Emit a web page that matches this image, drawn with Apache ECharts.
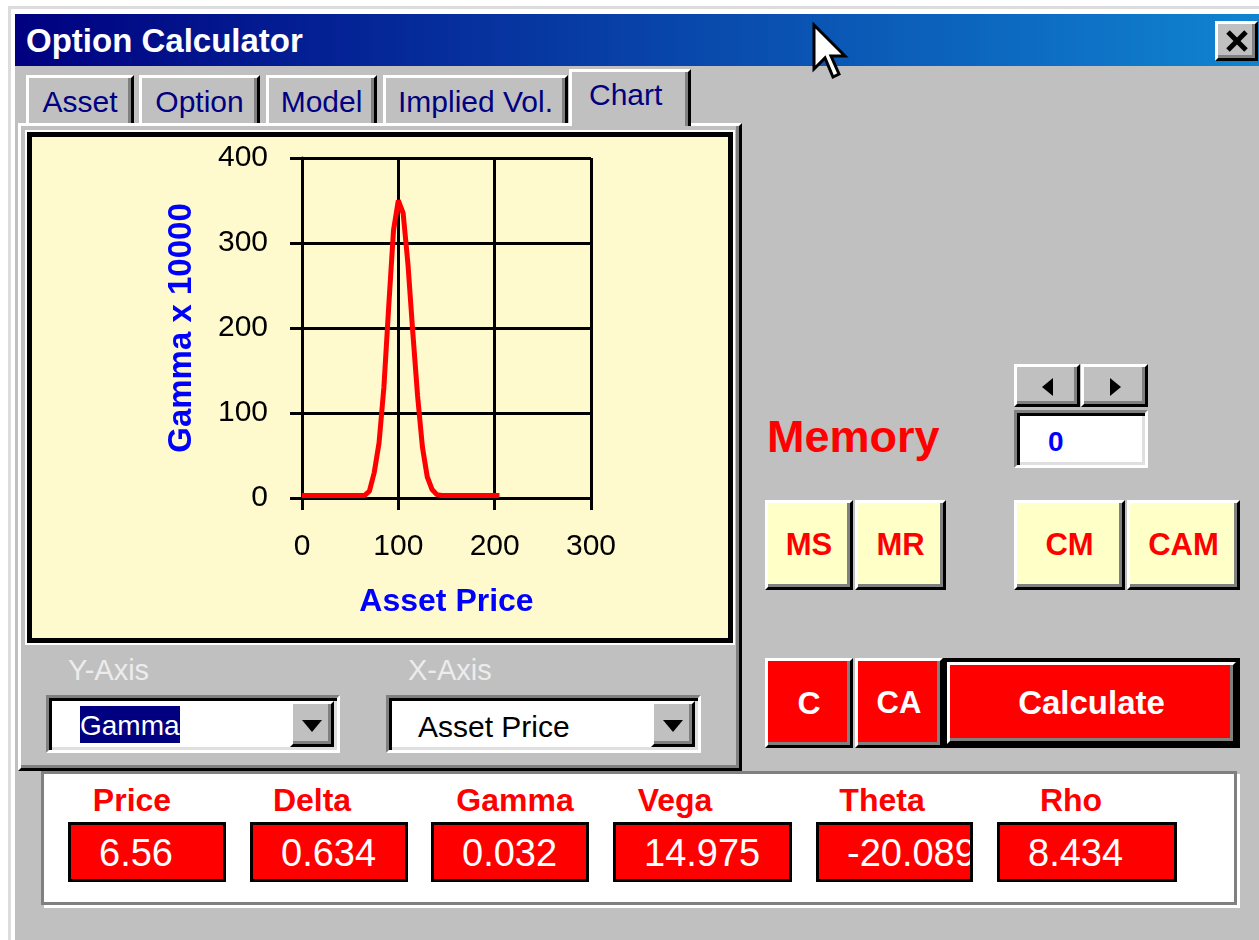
<!DOCTYPE html>
<html>
<head>
<meta charset="utf-8">
<title>Option Calculator</title>
<script src="https://cdn.jsdelivr.net/npm/echarts@6/dist/echarts.min.js"></script>
<style>
  body { margin: 0; width: 1259px; height: 940px; position: relative; overflow: hidden; background: #fff;
         font-family: 'Liberation Sans', Arial, sans-serif; }
  .a { position: absolute; box-sizing: border-box; }
  .txt { position: absolute; white-space: nowrap; }
  .raised { border: 3px solid; border-color: #fff #000 #000 #fff; box-shadow: inset -3px -3px 0 #808080; background: #c0c0c0; }
  .sunken { border: 3px solid; border-color: #808080 #fff #fff #808080; box-shadow: inset 3px 3px 0 #000, inset -3px -3px 0 #dfdfdf; background: #fff; }
  .center { display: flex; align-items: center; justify-content: center; font-weight: bold; }
</style>
</head>
<body>

<!-- window frame -->
<div class="a" style="left:8px;top:6px;width:1251px;height:934px;border-top:3px solid #dcdcdc;border-left:3px solid #dcdcdc;background:#fff;"></div>
<div class="a" style="left:15px;top:14px;width:1244px;height:926px;background:#c0c0c0;"></div>

<!-- title bar -->
<div class="a" style="left:15px;top:14px;width:1244px;height:52px;background:linear-gradient(to right,#000080,#1084d0);"></div>
<div class="txt" style="left:26px;top:24px;font-size:33px;line-height:33px;font-weight:bold;color:#fff;">Option Calculator</div>
<div class="a raised" style="left:1215px;top:21px;width:43px;height:40px;">
  <svg width="37" height="34" style="position:absolute;left:0;top:0">
    <line x1="10" y1="8" x2="28" y2="26" stroke="#000" stroke-width="5"/>
    <line x1="28" y1="8" x2="10" y2="26" stroke="#000" stroke-width="5"/>
  </svg>
</div>

<!-- tabs -->
<div id="tabs"></div>

<!-- tab page -->
<div class="a" style="left:18px;top:123px;width:724px;height:648px;border-top:3px solid #fff;border-left:3px solid #fff;border-right:3px solid #000;border-bottom:3px solid #000;box-shadow:inset -3px -3px 0 #808080;"></div>
<div class="a" style="left:569px;top:69px;width:122px;height:57px;background:#c0c0c0;border-top:3px solid #fff;border-left:3px solid #fff;border-right:3px solid #000;box-shadow:inset -3px 0 0 #808080;"></div>
<div class="txt" style="left:589px;top:79.6px;font-size:30px;line-height:30px;color:#000080;">Chart</div>

<!-- chart frame -->
<div class="a" style="left:27px;top:132px;width:706px;height:511px;border:5px solid #000;box-shadow:0 0 0 2px #fff;background:#fffacd;">
  <div id="chart" style="position:absolute;left:0;top:0;width:696px;height:501px;"></div>
</div>

<!-- axis selectors -->
<div class="txt" style="left:68px;top:655.5px;font-size:29px;line-height:29px;color:#ececec;">Y-Axis</div>
<div class="txt" style="left:408px;top:655.5px;font-size:29px;line-height:29px;color:#ececec;">X-Axis</div>

<div class="a sunken" style="left:46px;top:695px;width:294px;height:58px;">
  <div class="txt" style="left:31px;top:8px;height:37px;padding-top:2px;box-sizing:border-box;background:#000080;color:#fff;font-size:28px;line-height:35px;">Gamma</div>
  <div class="a raised" style="right:3px;top:3px;width:44px;height:46px;">
    <div class="a" style="left:9px;top:16px;width:0;height:0;border-left:10px solid transparent;border-right:10px solid transparent;border-top:12px solid #000;"></div>
  </div>
</div>
<div class="a sunken" style="left:386px;top:695px;width:315px;height:58px;">
  <div class="txt" style="left:29px;top:13.6px;font-size:30px;line-height:30px;color:#000;">Asset Price</div>
  <div class="a raised" style="right:3px;top:3px;width:44px;height:46px;">
    <div class="a" style="left:9px;top:16px;width:0;height:0;border-left:10px solid transparent;border-right:10px solid transparent;border-top:12px solid #000;"></div>
  </div>
</div>

<!-- results panel -->
<div class="a" style="left:41px;top:771px;width:1196px;height:134px;border:3px solid #808080;box-shadow:3px 3px 0 #fff;background:#fff;"></div>
<div id="greeks"></div>

<!-- memory -->
<div class="txt" style="left:767px;top:413.9px;font-size:45px;line-height:45px;font-weight:bold;color:#ff0000;">Memory</div>
<div class="a raised" style="left:1014px;top:364px;width:66px;height:43px;">
  <div class="a" style="left:25px;top:11px;width:0;height:0;border-top:9px solid transparent;border-bottom:9px solid transparent;border-right:11px solid #000;"></div>
</div>
<div class="a raised" style="left:1081px;top:364px;width:67px;height:43px;">
  <div class="a" style="left:26px;top:11px;width:0;height:0;border-top:9px solid transparent;border-bottom:9px solid transparent;border-left:11px solid #000;"></div>
</div>
<div class="a sunken" style="left:1014px;top:410px;width:134px;height:58px;">
  <div class="txt" style="left:31px;top:15px;font-size:28px;line-height:28px;font-weight:bold;color:#0000ff;">0</div>
</div>

<div id="buttons"></div>
<div class="a" style="left:943px;top:658px;width:297px;height:90px;border:4px solid #000;"></div>

<!-- mouse pointer -->
<svg class="a" style="left:811px;top:22px;" width="40" height="60">
  <polygon points="3,3 3,47 14,36 22,55 28,52 20,34 34,34" fill="#fff" stroke="#000" stroke-width="3" stroke-linejoin="miter"/>
</svg>

<script>
  // gamma profile
  var assetPrice = [0, 5, 10, 15, 20, 25, 30, 35, 40, 45, 50, 55, 60, 65, 70, 75, 80, 85, 90, 95, 100,
                    105, 110, 115, 120, 125, 130, 135, 140, 145, 150, 155, 160, 165, 170, 175, 180, 185, 190, 195, 200, 205];
  var gammaX10000 = [3, 3, 3, 3, 3, 3, 3, 3, 3, 3, 3, 3, 3, 3, 8, 30, 65, 130, 225, 315, 350,
                     335, 275, 195, 120, 60, 25, 10, 4, 3, 3, 3, 3, 3, 3, 3, 3, 3, 3, 3, 3, 3];

  var tabNames = ['Asset', 'Option', 'Model', 'Implied Vol.'];
  var greekNames = ['Price', 'Delta', 'Gamma', 'Vega', 'Theta', 'Rho'];
  var greekValues = ['6.56', '0.634', '0.032', '14.975', '-20.089', '8.434'];
  var memoryButtons = ['MS', 'MR', 'CM', 'CAM'];
  var calcButtons = ['C', 'CA', 'Calculate'];

  var font = "'Liberation Sans', Arial, sans-serif";

  // tabs
  var tabBox = [[26, 108], [139, 121], [266, 111], [383, 185]];
  var html = '';
  tabNames.forEach(function (t, i) {
    html += '<div class="a" style="left:' + tabBox[i][0] + 'px;top:75px;width:' + tabBox[i][1] +
      'px;height:48px;border-top:3px solid #fff;border-left:3px solid #fff;border-right:3px solid #000;box-shadow:inset -3px 0 0 #808080;' +
      'text-align:center;font-size:30px;line-height:30px;padding-top:8.6px;color:#000080;">' + t + '</div>';
  });
  document.getElementById('tabs').innerHTML = html;

  // greeks panel
  var boxPos = [[68, 158], [250, 158], [431, 158], [613, 179], [816, 157], [997, 180]];
  var labelCx = [132, 312, 515, 675, 882, 1071];
  html = '';
  greekNames.forEach(function (g, i) {
    html += '<div class="txt" style="left:' + (labelCx[i] - 100) + 'px;width:200px;text-align:center;top:783.9px;font-size:32px;line-height:32px;font-weight:bold;color:#ff0000;">' + g + '</div>';
    html += '<div class="a" style="left:' + boxPos[i][0] + 'px;top:822px;width:' + boxPos[i][1] +
      'px;height:60px;border:3px solid #000;background:#ff0000;overflow:hidden;white-space:nowrap;color:#fff;font-size:38px;line-height:38px;padding:9px 0 0 28px;">' +
      greekValues[i] + '</div>';
  });
  document.getElementById('greeks').innerHTML = html;

  // buttons
  var btnPos = [[765, 500, 88, 90], [855, 500, 91, 90], [1014, 500, 111, 90], [1127, 500, 113, 90]];
  var calcPos = [[765, 658, 88, 90], [855, 658, 88, 90], [947, 662, 289, 82]];
  var calcFs = [32, 31, 33];
  html = '';
  memoryButtons.forEach(function (b, i) {
    var p = btnPos[i];
    html += '<div class="a raised center" style="left:' + p[0] + 'px;top:' + p[1] + 'px;width:' + p[2] + 'px;height:' + p[3] +
      'px;background:#ffffc8;color:#ff0000;font-size:31px;">' + b + '</div>';
  });
  calcButtons.forEach(function (b, i) {
    var p = calcPos[i];
    html += '<div class="a raised center" style="left:' + p[0] + 'px;top:' + p[1] + 'px;width:' + p[2] + 'px;height:' + p[3] +
      'px;background:#ff0000;color:#fff;font-size:' + calcFs[i] + 'px;">' + b + '</div>';
  });
  document.getElementById('buttons').innerHTML = html;

  // chart
  var myChart = echarts.init(document.getElementById('chart'));

  var points = assetPrice.map(function (x, i) { return [x, gammaX10000[i]]; });

  var axisCommon = {
    type: 'value',
    nameLocation: 'middle',
    nameTextStyle: { color: '#0000ff', fontSize: 32, fontWeight: 'bold', fontFamily: font },
    axisLine: { show: true, onZero: false, lineStyle: { color: '#000', width: 3 } },
    axisTick: { show: true, length: 12, lineStyle: { color: '#000', width: 3 } },
    axisLabel: { color: '#000', fontSize: 30, fontFamily: font },
    splitLine: { show: true, lineStyle: { color: '#000', width: 3 } }
  };

  var option = {
    animation: false,
    textStyle: { fontFamily: font },
    grid: { left: 270, right: 137, top: 21, bottom: 140 },
    xAxis: Object.assign({}, axisCommon, {
      min: 0, max: 300, interval: 100,
      name: 'Asset Price', nameGap: 88,
      axisLabel: Object.assign({}, axisCommon.axisLabel, { margin: 34 })
    }),
    yAxis: Object.assign({}, axisCommon, {
      min: 0, max: 400, interval: 100,
      name: 'Gamma x 10000', nameGap: 104, nameRotate: 90,
      nameTextStyle: Object.assign({}, axisCommon.nameTextStyle, { fontSize: 33 }),
      axisLabel: Object.assign({}, axisCommon.axisLabel, { margin: 34 })
    }),
    series: [{
      type: 'line',
      data: points,
      showSymbol: false,
      lineStyle: { color: '#ff0000', width: 5 }
    }]
  };

  myChart.setOption(option);
</script>
</body>
</html>
